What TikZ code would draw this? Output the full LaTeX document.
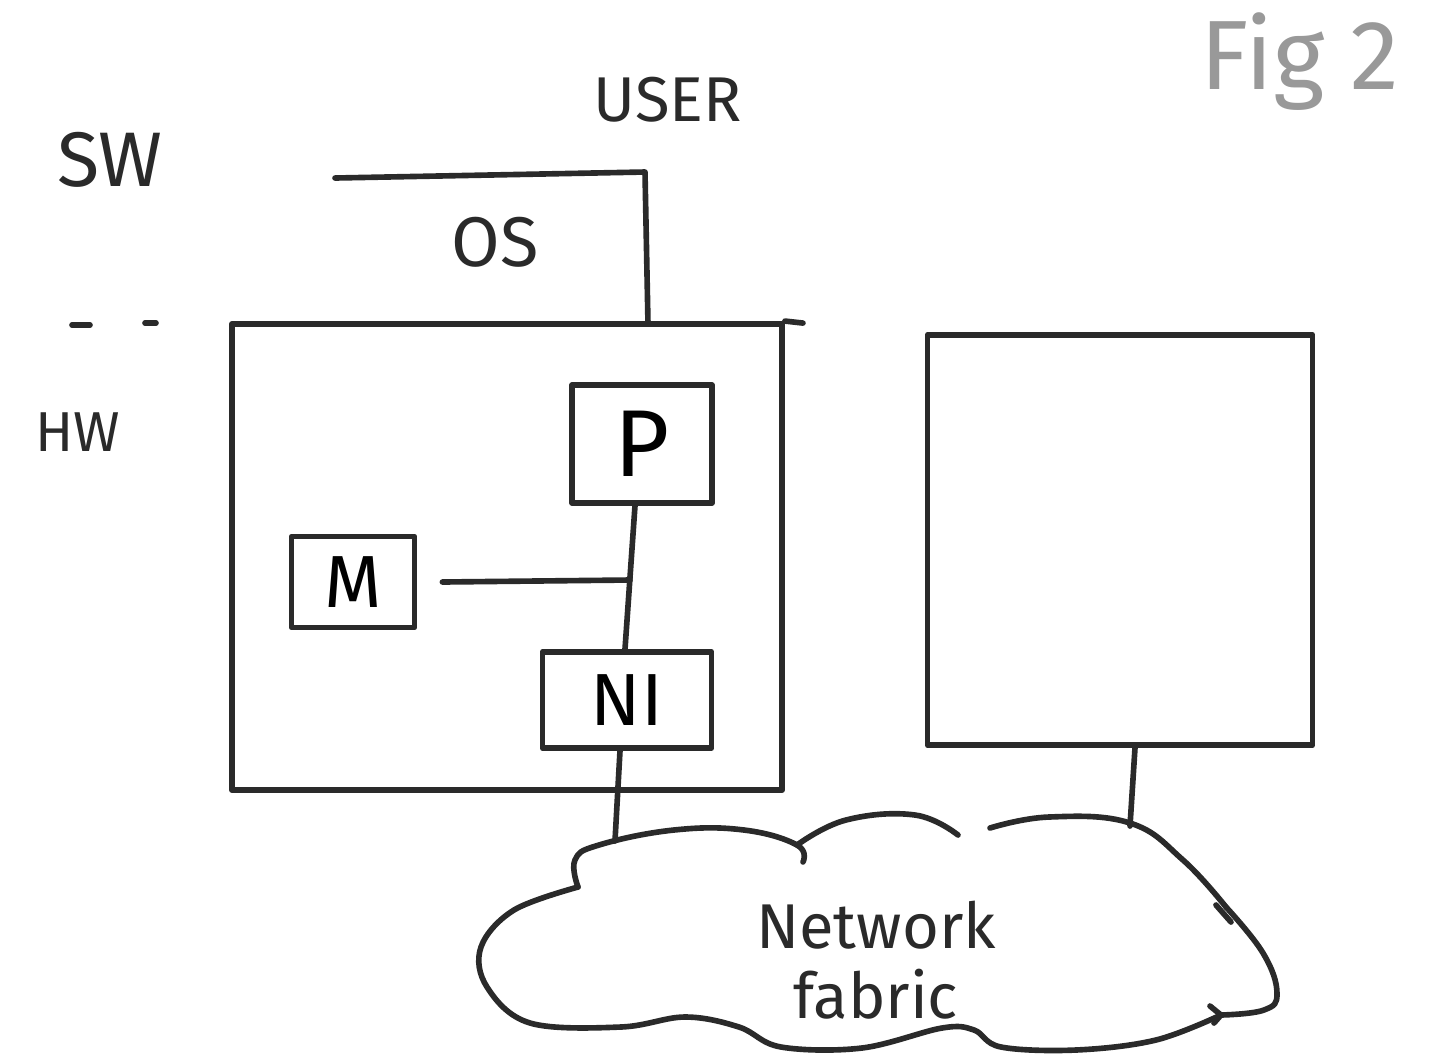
\documentclass[tikz,border=0pt]{standalone}
\usepackage{fontspec}
\setmainfont{Fira Sans}
\begin{document}
\begin{tikzpicture}[x=0.01cm,y=-0.01cm,
  ink/.style={draw=inkc, line width=1.6pt, line cap=round, line join=round},
  hbox/.style={ink, rectangle, inner sep=0pt},
  lbl/.style={text=inkc, inner sep=0pt}]
\definecolor{inkc}{HTML}{2A2A2A}
\useasboundingbox[fill=white] (0,0) rectangle (1444,1056);

% labels
\node[lbl, text=black!40, font=\fontsize{28}{30}\selectfont] (fig) at (1300,62) {Fig 2};
\node[lbl, font=\fontsize{18}{20}\selectfont] (user) at (668,100) {USER};
\node[lbl, font=\fontsize{22}{24}\selectfont] (sw) at (110,160) {SW};
\node[lbl, font=\fontsize{20}{22}\selectfont] (os) at (495,242) {OS};
\node[lbl, font=\fontsize{16}{18}\selectfont] (hwl) at (78,432) {HW};

% SW / HW divider dashes
\draw[ink] (72,325) -- (90,325);
\draw[ink] (145,323) -- (156,323);

% main host box and OS bracket
\node[hbox, minimum width=5.5cm, minimum height=4.66cm] (hw) at (507,557) {};
\coordinate (ostop) at (648,324);
\draw[ink] (335,178) -- (645,172) -- (ostop);
\draw[ink] (hw.north east) -- ++(18,2);

% inner components
\node[hbox, minimum width=1.40cm, minimum height=1.18cm, font=\fontsize{27}{29}\selectfont] (P) at (642,444) {P};
\node[hbox, minimum width=1.23cm, minimum height=0.91cm, font=\fontsize{21}{23}\selectfont] (M) at (353,582) {M};
\node[hbox, minimum width=1.69cm, minimum height=0.96cm, font=\fontsize{21}{23}\selectfont] (NI) at (627,700) {NI};

\coordinate (bus) at (630,580);
\draw[ink] ([xshift=-0.07cm]P.south) -- ([xshift=-0.02cm]NI.north);
\draw[ink] ([xshift=0.25cm]M.east) -- (bus);

% second host box
\node[hbox, minimum width=3.85cm, minimum height=4.10cm] (host2) at (1120,540) {};

% network fabric cloud
\draw[ink] plot[smooth, tension=0.7] coordinates {(578,887) (575,860) (599,845) (674,830) (744,830) (797,845) (803,862)};
\draw[ink] plot[smooth, tension=0.7] coordinates {(797,845) (846,820) (915,815) (958,835)};
\draw[ink] plot[smooth, tension=0.7] coordinates {(990,828) (1049,817) (1130,823) (1183,860) (1226,907)};
\draw[ink] (1216,905) -- (1231,922);
\draw[ink] plot[smooth, tension=0.7] coordinates {(1226,907) (1263,953) (1277,993) (1264,1010) (1221,1015)};
\draw[ink] (1210,1006) -- (1221,1015) -- (1214,1023);
\draw[ink] plot[smooth, tension=0.6] coordinates {(1221,1015) (1156,1040) (1076,1050) (1001,1047) (974,1030) (942,1028) (862,1048) (781,1047) (739,1027) (685,1017) (621,1027) (530,1023) (487,987) (481,947) (514,910) (578,887)};
\node[lbl, align=center, font=\fontsize{18}{20}\selectfont] (net) at (876,960) {Network\\fabric};

\coordinate (cl) at (615,841);
\coordinate (cr) at (1130,826);
\draw[ink] ([xshift=-0.07cm]NI.south) -- (cl);
\draw[ink] ([xshift=0.15cm]host2.south) -- (cr);
\end{tikzpicture}
\end{document}
